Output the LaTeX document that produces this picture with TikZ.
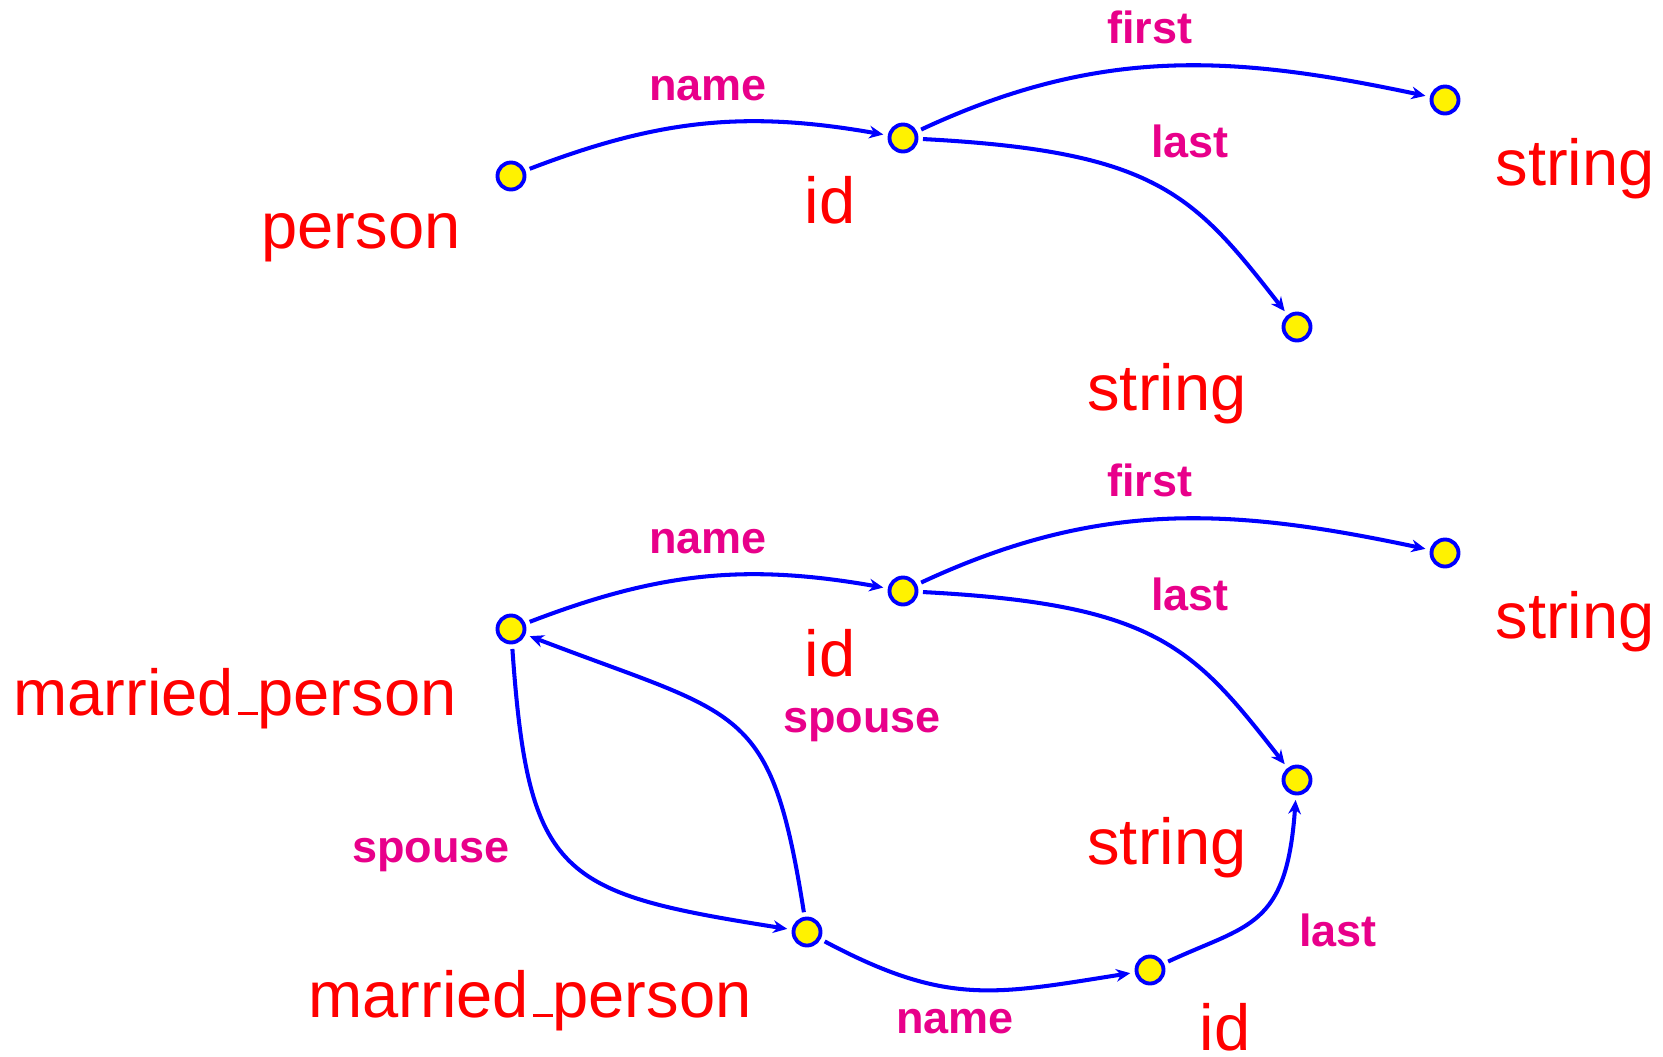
\documentclass[tikz,border=0pt]{standalone}
\usepackage{fontspec}
\setmainfont{Liberation Sans}
\usetikzlibrary{positioning,arrows.meta}
\definecolor{relpink}{RGB}{232,0,138}
\newcommand{\usc}{\leavevmode\kern.06em\vbox{\hrule width.3em height.9pt}}

\tikzset{
  dot/.style={circle,draw=blue,fill=yellow,line width=1.1pt,minimum size=0.27cm,inner sep=0pt,outer sep=1.85pt},
  sort/.style={text=red,font=\fontsize{18.5}{21}\selectfont,inner sep=0pt},
  attr/.style={text=relpink,font=\bfseries\fontsize{12.8}{15}\selectfont,inner sep=0pt},
  feat/.style={draw=blue,line width=1.15pt,-{Stealth[length=4pt,width=3.6pt]}},
}

\begin{document}
\begin{tikzpicture}[x=0.01cm,y=0.01cm]
  \useasboundingbox (0,0) rectangle (1663,1056);
  %% person
  \node[dot] (p1) at (511,880) {};
  \node[dot] (i1) at (903,918) {};
  \node[dot] (s1) at (1445,956) {};
  \node[dot] (s2) at (1297,729) {};
  \node[sort,on grid,above right=-72 and -150 of p1,anchor=base] (tp1) {person};
  \node[sort,on grid,above right=-85 and -73 of i1,anchor=base] (ti1) {id};
  \node[sort,on grid,above right=-85 and 130 of s1,anchor=base] (ts1) {string};
  \node[sort,on grid,above right=-83 and -130 of s2,anchor=base] (ts2) {string};
  \node[attr,on grid,above right=76 and 197 of p1,anchor=base] (ln1) {name};
  \node[attr,on grid,above right=95 and 247 of i1,anchor=base] (lf1) {first};
  \node[attr,on grid,above right=-19 and 287 of i1,anchor=base] (ll1) {last};
  \draw[feat] (p1) to[out=21,in=170] (i1);
  \draw[feat] (i1) to[out=25,in=168] (s1);
  \draw[feat] (i1) to[out=-3,in=128,out looseness=1.5,in looseness=0.95] (s2);

  %% married_person
  \node[dot] (m1) at (511,427) {};
  \node[dot] (i2) at (903,465) {};
  \node[dot] (s3) at (1445,503) {};
  \node[dot] (s4) at (1297,276) {};
  \node[dot] (m2) at (807,124) {};
  \node[dot] (i3) at (1150,86) {};
  \node[sort,on grid,above right=-86 and -276 of m1,anchor=base] (tm1) {married\usc person};
  \node[sort,on grid,above right=-85 and -73 of i2,anchor=base] (ti2) {id};
  \node[sort,on grid,above right=-85 and 130 of s3,anchor=base] (ts3) {string};
  \node[sort,on grid,above right=-84 and -130 of s4,anchor=base] (ts4) {string};
  \node[sort,on grid,above right=-85 and -277 of m2,anchor=base] (tm2) {married\usc person};
  \node[sort,on grid,above right=-80 and 75 of i3,anchor=base] (ti3) {id};
  \node[attr,on grid,above right=76 and 197 of m1,anchor=base] (ln2) {name};
  \node[attr,on grid,above right=95 and 247 of i2,anchor=base] (lf2) {first};
  \node[attr,on grid,above right=-19 and 287 of i2,anchor=base] (ll2) {last};
  \node[attr,on grid,above right=200 and 55 of m2,anchor=base] (lsp1) {spouse};
  \node[attr,on grid,above right=70 and -376 of m2,anchor=base] (lsp2) {spouse};
  \node[attr,on grid,above right=-101 and 148 of m2,anchor=base] (ln3) {name};
  \node[attr,on grid,above right=24 and 188 of i3,anchor=base] (ll3) {last};
  \draw[feat] (m1) to[out=21,in=170] (i2);
  \draw[feat] (i2) to[out=25,in=168] (s3);
  \draw[feat] (i2) to[out=-3,in=128,out looseness=1.5,in looseness=0.95] (s4);
  \draw[feat] (m1) to[out=-86,in=171,looseness=1.5] (m2);
  \draw[feat] (m2) to[out=99,in=-21,out looseness=1.4,in looseness=1.5] (m1);
  \draw[feat] (m2) to[out=-28,in=-171,looseness=1.15] (i3);
  \draw[feat] (i3) to[out=25,in=-94,out looseness=1.1,in looseness=1.6] (s4);
\end{tikzpicture}
\end{document}
